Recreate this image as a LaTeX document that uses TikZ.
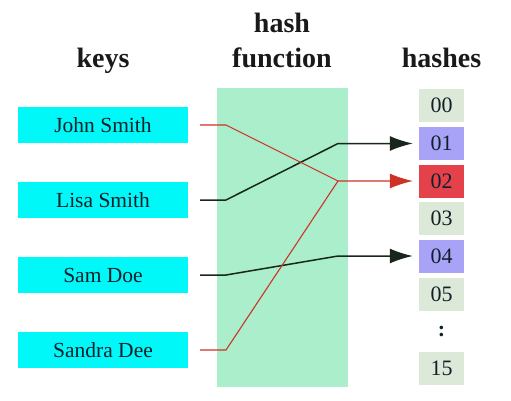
\documentclass[tikz,border=0pt]{standalone}
\usepackage{fontspec}
\setmainfont{Liberation Serif}
\usetikzlibrary{arrows.meta,positioning}

\definecolor{keycyan}{HTML}{00F8F8}
\definecolor{fngreen}{HTML}{AAEECC}
\definecolor{slotgrey}{HTML}{DCE8D8}
\definecolor{slotblue}{HTML}{A9A3F7}
\definecolor{slotred}{HTML}{E5414B}
\definecolor{redwire}{HTML}{CC3324}
\definecolor{darkwire}{HTML}{18261C}
\definecolor{inktext}{HTML}{10202A}

\begin{document}
\begin{tikzpicture}[
    x=1pt, y=-1pt,
    title/.style={font=\fontsize{28}{35}\selectfont\bfseries, inner sep=0pt, align=center, text=black!90},
    keybox/.style={rectangle, fill=keycyan, minimum width=170pt, minimum height=36pt, inner sep=0pt, font=\fontsize{21.5}{24}\selectfont, text=inktext},
    slot/.style={rectangle, fill=slotgrey, minimum width=45pt, minimum height=33pt, inner sep=0pt, font=\fontsize{22}{24}\selectfont, text=inktext},
    fnbox/.style={rectangle, fill=fngreen, minimum width=131pt, minimum height=299pt, inner sep=0pt},
    redwire/.style={draw=redwire, line width=1.1pt},
    darkwire/.style={draw=darkwire, line width=1.5pt},
    tip/.style={-{Latex[length=23pt, width=15pt]}, shorten >=6pt}
]
\useasboundingbox (0,0) rectangle (511,400);

% Titles
\node[title, anchor=base] (keyst) at (103,67) {keys};
\node[title, anchor=north] (fnt) at (282,13) {hash\\function};
\node[title, anchor=base] (hasht) at (441.5,67) {hashes};

% Hash function
\node[fnbox] (fn) at (282.5,237.5) {};

% Keys
\node[keybox] (john) at (103,125) {John Smith};
\node[keybox] (lisa) at (103,200) {Lisa Smith};
\node[keybox] (sam) at (103,275) {Sam Doe};
\node[keybox] (sandra) at (103,350) {Sandra Dee};

% Hashes
\node[slot] (h00) at (441.5,105.5) {00};
\node[slot, fill=slotblue] (h01) at (441.5,143.5) {01};
\node[slot, fill=slotred] (h02) at (441.5,181) {02};
\node[slot] (h03) at (441.5,218.5) {03};
\node[slot, fill=slotblue] (h04) at (441.5,256) {04};
\node[slot] (h05) at (441.5,294) {05};
\node[font=\fontsize{22}{24}\selectfont\bfseries, text=inktext] (dots) at (441.5,331) {:};
\node[slot] (h15) at (441.5,368.5) {15};

% Wires
\coordinate (bend) at (226,0);
\coordinate (hit) at (338,0);
\draw[darkwire, tip, shorten <=12pt] (lisa.east) -- (lisa.east -| bend) -- (h01.west -| hit) -- (h01.west);
\draw[darkwire, tip, shorten <=12pt] (sam.east) -- (sam.east -| bend) -- (h04.west -| hit) -- (h04.west);
\draw[redwire, tip, shorten <=12pt] (john.east) -- (john.east -| bend) -- (h02.west -| hit) -- (h02.west);
\draw[redwire, shorten <=12pt] (sandra.east) -- (sandra.east -| bend) -- (h02.west -| hit);

\end{tikzpicture}
\end{document}
